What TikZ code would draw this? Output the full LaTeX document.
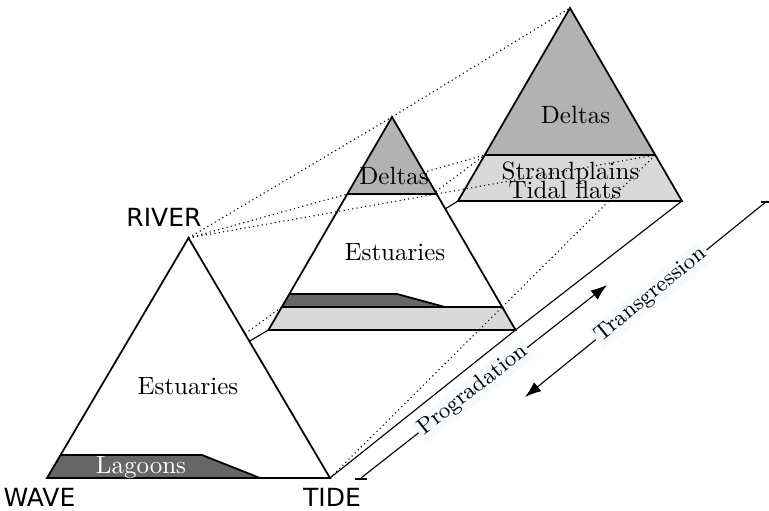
\documentclass[tikz,border=0pt]{standalone}
\usepackage{fontspec}
\newfontfamily\labfont{DejaVu Sans}
\usetikzlibrary{arrows.meta}
\definecolor{lblbg}{RGB}{246,252,253}
\begin{document}
\begin{tikzpicture}[x=0.4pt,y=-0.4pt,
  tri/.style={line width=0.7pt, line join=miter},
  conn/.style={line width=0.45pt},
  dots/.style={line width=0.45pt, dash pattern=on 0.45pt off 1.3pt},
  lbl/.style={font=\fontsize{10}{12}\selectfont, anchor=base, inner sep=0pt},
  cornerlbl/.style={font=\labfont\fontsize{10}{12}\selectfont, anchor=base, inner sep=0pt},
  arrowlbl/.style={font=\small, sloped, fill=lblbg, inner sep=1pt},
  arr/.style={conn, -{Latex[length=6.5pt,width=4.6pt]}}]
\useasboundingbox (0,0) rectangle (769,511);
% ---------- coordinates ----------
% triangle 1 (front)
\coordinate (A1) at (188.5,238);
\coordinate (L1) at (47,478);
\coordinate (R1) at (330,478);
\coordinate (G1) at (60.56,455);
\coordinate (G2) at (202,455);
\coordinate (G3) at (260,478);
\coordinate (C1) at (62.92,451);
% triangle 2
\coordinate (A2) at (392,117);
\coordinate (DL2) at (347.34,194);
\coordinate (DR2) at (436.66,194);
\coordinate (K1) at (289.34,294);
\coordinate (K2) at (397,294);
\coordinate (K3) at (445,307);
\coordinate (LT2L) at (281.8,307);
\coordinate (LT2R) at (502.2,307);
\coordinate (M2) at (280.06,310);
\coordinate (B2L) at (268.46,330);
\coordinate (B2R) at (515.54,330);
% triangle 3
\coordinate (A3) at (570,8);
\coordinate (DL3) at (484.74,155);
\coordinate (DR3) at (655.26,155);
\coordinate (B3L) at (458.06,201);
\coordinate (B3R) at (681.94,201);
% arrows
\coordinate (P1) at (361,478);
\coordinate (P2) at (607,285);
\coordinate (P1a) at (355,479);
\coordinate (P1b) at (367,479);
\coordinate (T1) at (767,201);
\coordinate (T2) at (525,397);
\coordinate (T1a) at (761,202);
\coordinate (T1b) at (773,202);
% ---------- triangle 3 ----------
\fill[black!30] (A3) -- (DR3) -- (DL3) -- cycle;
\fill[black!15] (DL3) -- (DR3) -- (B3R) -- (B3L) -- cycle;
\draw[tri] (A3) -- (B3R) -- (B3L) -- cycle;
\draw[tri] (DL3) -- (DR3);
\node[lbl] (d3) at (575.5,124) {Deltas};
\node[lbl] (sp3) at (570.5,180) {Strandplains};
\node[lbl] (tf3) at (565,199) {Tidal flats};
% ---------- links between planes 2 and 3 ----------
\draw[dots] (A2) -- (A3);
\draw[dots] (DL2) -- (DL3);
\draw[dots] (DR2) -- (DR3);
\draw[dots] (LT2L) -- (DL3);
\draw[dots] (LT2R) -- (DR3);
\draw[conn] (M2) -- (B3L);
\draw[conn] (B2R) -- (B3R);
% ---------- triangle 2 ----------
\fill[white] (A2) -- (B2R) -- (B2L) -- cycle;
\fill[black!30] (A2) -- (DR2) -- (DL2) -- cycle;
\fill[black!60] (K1) -- (K2) -- (K3) -- (LT2L) -- cycle;
\fill[black!15] (LT2L) -- (LT2R) -- (B2R) -- (B2L) -- cycle;
\draw[tri] (A2) -- (B2R) -- (B2L) -- cycle;
\draw[tri] (DL2) -- (DR2);
\draw[tri] (K1) -- (K2) -- (K3);
\draw[tri] (LT2L) -- (LT2R);
\node[lbl] (d2) at (394,185) {Deltas};
\node[lbl] (e2) at (395,261) {Estuaries};
% ---------- links between planes 1 and 2 ----------
\draw[dots] (A1) -- (A2);
\draw[dots] (A1) -- (DL2);
\draw[dots] (A1) -- (DR2);
\draw[dots] (L1) -- (LT2L);
\draw[dots] (R1) -- (LT2R);
\draw[conn] (C1) -- (B2L);
\draw[conn] (R1) -- (B2R);
% ---------- triangle 1 ----------
\fill[white] (A1) -- (R1) -- (L1) -- cycle;
\fill[black!60] (G1) -- (G2) -- (G3) -- (L1) -- cycle;
\draw[tri] (A1) -- (R1) -- (L1) -- cycle;
\draw[tri] (G1) -- (G2) -- (G3);
\node[lbl] (e1) at (188,395) {Estuaries};
\node[lbl, text=white] (lag) at (141,474) {Lagoons};
% ---------- corner labels ----------
\node[cornerlbl] (river) at (164,227) {RIVER};
\node[cornerlbl] (wave) at (39.5,507) {WAVE};
\node[cornerlbl] (tide) at (332,507) {TIDE};
% ---------- arrows ----------
\draw[conn] (P1a) -- (P1b);
\draw[conn] (T1a) -- (T1b);
\draw[arr] (P1) -- node[arrowlbl, pos=0.455] (prog) {Progradation} (P2);
\draw[arr] (T1) -- node[arrowlbl, pos=0.479] (trans) {Transgression} (T2);
\end{tikzpicture}
\end{document}
